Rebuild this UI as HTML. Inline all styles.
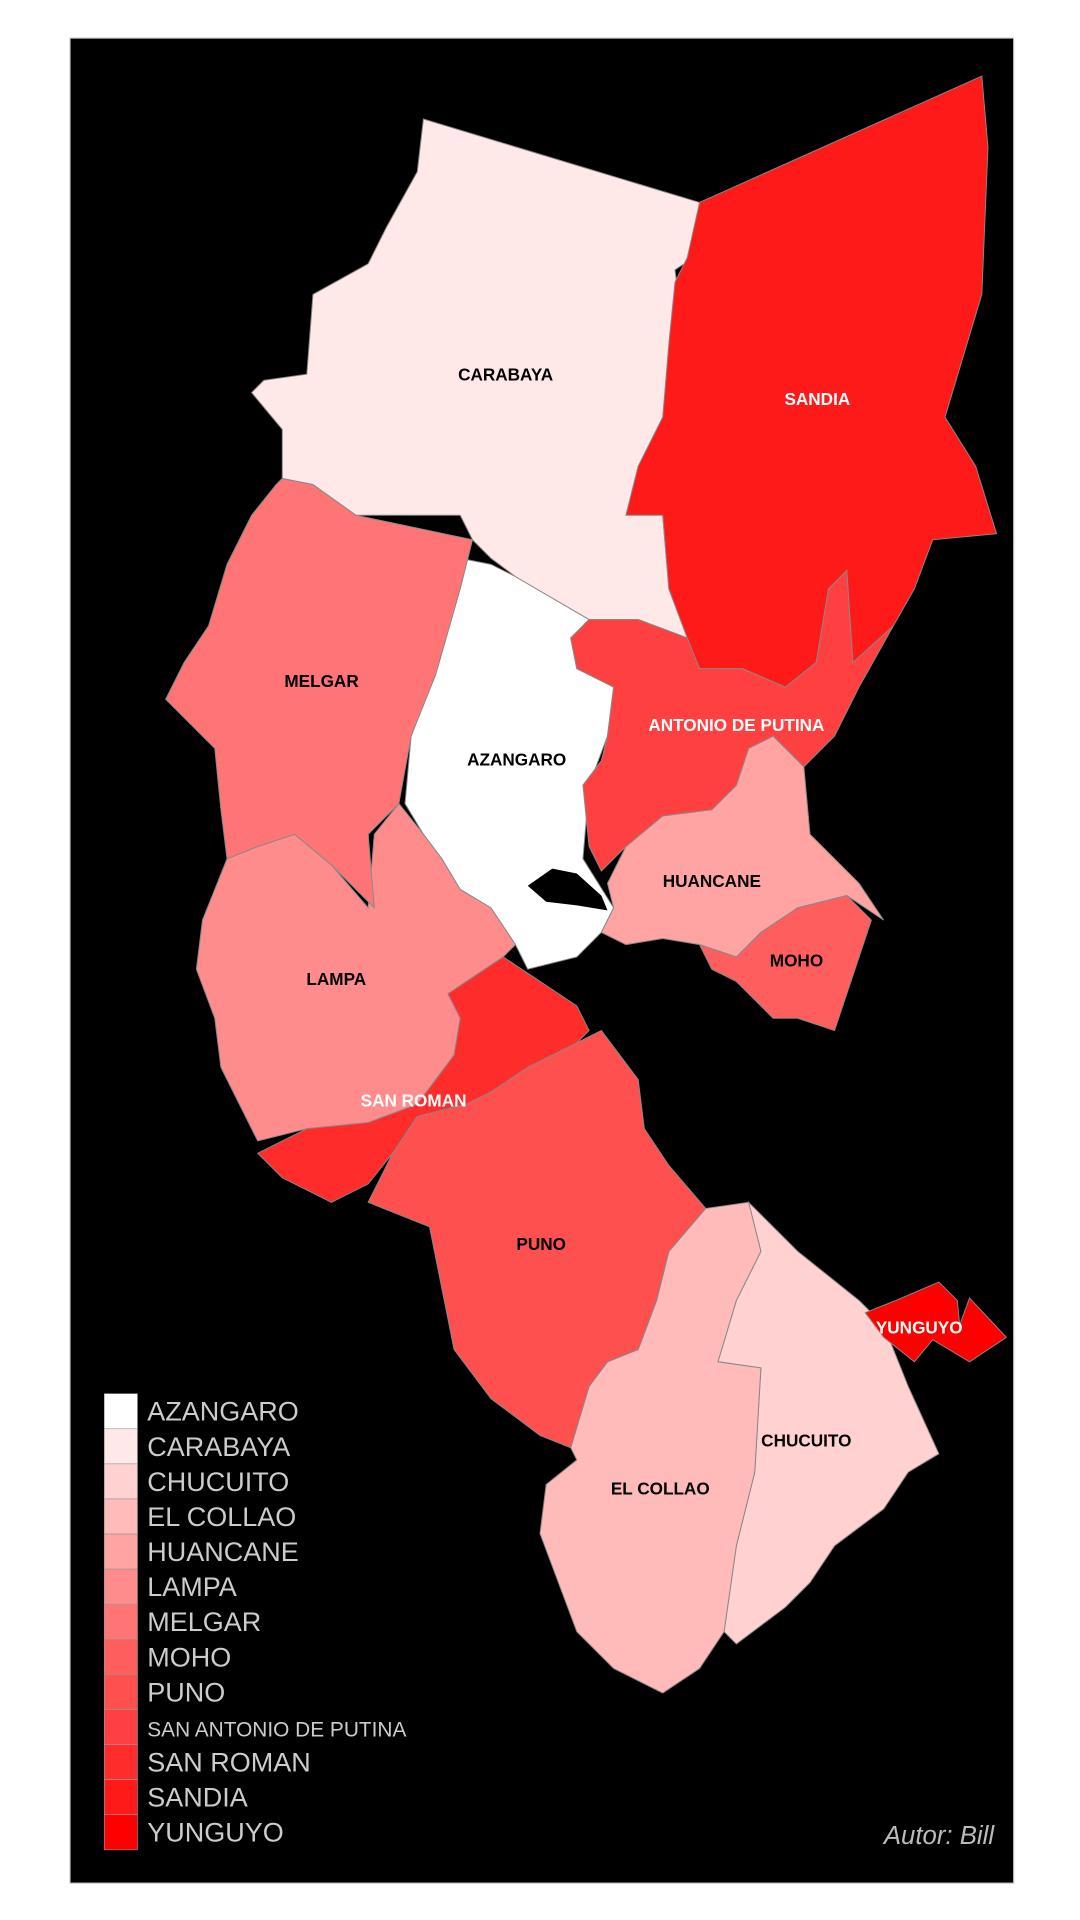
<!DOCTYPE html>
<html><head><meta charset="utf-8"><style>
html,body{margin:0;padding:0;background:#fff;width:1080px;height:1920px;overflow:hidden}
svg{display:block}
text{font-family:"Liberation Sans",sans-serif}
</style></head><body>
<svg id="map" width="1080" height="1920" viewBox="0 0 880 1565" preserveAspectRatio="none">
<rect x="57" y="31" width="769" height="1504" fill="#000" stroke="#ccc" stroke-width="1"/>
<g id="regions"></g>
<g id="labels"></g>
<g id="legend"></g>
<text x="810" y="1503" text-anchor="end" font-size="21" font-style="italic" fill="#bbb">Autor: Bill</text>
</svg>
<script>
const names=["AZANGARO","CARABAYA","CHUCUITO","EL COLLAO","HUANCANE","LAMPA","MELGAR","MOHO","PUNO","SAN ANTONIO DE PUTINA","SAN ROMAN","SANDIA","YUNGUYO"];
const shade=[255,232,209,186,163,140,117,94,80,64,44,26,0];
const shapes={
"CARABAYA":[[345,97],[570,165],[565,210],[550,220],[555,260],[545,340],[555,380],[540,420],[545,480],[560,520],[520,505],[480,505],[420,470],[400,455],[385,440],[375,420],[290,420],[255,395],[230,390],[230,350],[205,320],[215,310],[250,305],[255,240],[300,215],[315,185],[340,140]],
"SANDIA":[[570,165],[800,62],[805,120],[800,240],[785,290],[770,340],[795,380],[812,435],[760,440],[745,480],[728,510],[695,540],[690,465],[675,480],[665,540],[640,560],[605,545],[570,545],[560,520],[545,480],[540,420],[510,420],[520,380],[540,340],[545,280],[550,230],[560,210]],
"AZANGARO":[[375,455],[400,460],[420,470],[480,505],[465,520],[470,545],[500,560],[495,600],[480,640],[475,700],[500,740],[490,760],[470,780],[430,790],[420,770],[400,740],[375,725],[360,700],[345,680],[330,655],[335,600],[350,560],[345,545],[360,520],[370,470]],
"MELGAR":[[230,390],[255,395],[290,420],[385,440],[375,480],[355,550],[335,600],[325,655],[300,680],[305,740],[270,705],[240,680],[210,690],[185,700],[180,660],[175,610],[135,570],[150,540],[170,510],[185,460],[205,420],[225,395]],
"LAMPA":[[185,700],[210,690],[240,680],[270,705],[300,740],[305,680],[325,655],[345,680],[360,700],[375,725],[400,740],[420,770],[410,780],[380,800],[365,810],[375,830],[370,860],[340,900],[300,915],[250,920],[210,930],[195,900],[180,870],[175,830],[160,790],[165,750]],
"SAN ANTONIO DE PUTINA":[[480,505],[520,505],[560,520],[570,545],[605,545],[640,560],[665,540],[675,480],[690,465],[695,540],[728,510],[700,560],[680,600],[655,625],[630,600],[610,610],[600,640],[580,660],[540,665],[510,690],[490,710],[480,690],[475,640],[490,620],[495,600],[500,560],[470,545],[465,520]],
"HUANCANE":[[510,690],[540,665],[580,660],[600,640],[610,610],[630,600],[655,625],[660,680],[700,720],[720,750],[690,730],[670,735],[650,740],[620,760],[600,780],[570,770],[540,765],[510,770],[490,760],[500,740],[495,720]],
"MOHO":[[570,770],[600,780],[620,760],[650,740],[670,735],[690,730],[710,750],[700,780],[690,810],[680,840],[650,830],[630,830],[600,800],[580,790]],
"SAN ROMAN":[[365,810],[380,800],[410,780],[440,800],[470,820],[480,840],[470,850],[430,870],[400,890],[380,900],[340,910],[320,940],[300,965],[270,980],[230,960],[210,940],[250,920],[300,915],[340,900],[370,860],[375,830]],
"PUNO":[[470,850],[490,840],[505,860],[520,880],[525,920],[545,950],[575,985],[545,1020],[535,1060],[520,1100],[495,1110],[480,1130],[465,1180],[440,1170],[400,1140],[370,1100],[350,1000],[300,980],[320,940],[340,910],[380,900],[400,890],[430,870]],
"EL COLLAO":[[575,985],[610,980],[620,1020],[600,1060],[585,1110],[620,1115],[615,1200],[600,1260],[590,1330],[570,1360],[540,1380],[500,1360],[470,1330],[455,1290],[440,1250],[445,1210],[470,1190],[465,1180],[480,1130],[495,1110],[520,1100],[535,1060],[545,1020]],
"CHUCUITO":[[610,980],[650,1020],[700,1060],[720,1080],[740,1130],[765,1185],[740,1200],[720,1230],[680,1260],[660,1290],[640,1310],[600,1340],[590,1330],[600,1260],[615,1200],[620,1115],[585,1110],[600,1060],[620,1020]],
"YUNGUYO":[[705,1070],[730,1060],[765,1045],[780,1060],[782,1080],[790,1058],[820,1090],[790,1110],[760,1092],[745,1110],[720,1090]]
};
const labelPos={"CARABAYA":[412,310,0],"SANDIA":[666,330,1],"MELGAR":[262,560,0],"AZANGARO":[421,624,0],"SAN ANTONIO DE PUTINA":[600,596,1],"HUANCANE":[580,723,0],"MOHO":[649,788,0],"LAMPA":[274,803,0],"SAN ROMAN":[337,902,1],"PUNO":[441,1019,0],"CHUCUITO":[657,1179,0],"EL COLLAO":[538,1218,0],"YUNGUYO":[749,1087,1]};
const labelText={"SAN ANTONIO DE PUTINA":"ANTONIO DE PUTINA"};
const NS="http://www.w3.org/2000/svg";
const gR=document.getElementById('regions'),gL=document.getElementById('labels'),gG=document.getElementById('legend');
function col(i){return 'rgb(255,'+shade[i]+','+shade[i]+')';}
names.forEach((n,i)=>{
  const p=document.createElementNS(NS,'polygon');
  p.setAttribute('points',shapes[n].map(q=>q.join(',')).join(' '));
  p.setAttribute('fill',col(i));p.setAttribute('stroke','#888');p.setAttribute('stroke-width','0.8');
  
  
  gR.appendChild(p);
  const lp=labelPos[n];
  const t=document.createElementNS(NS,'text');
  t.setAttribute('x',lp[0]);t.setAttribute('y',lp[1]);t.setAttribute('text-anchor','middle');
  t.setAttribute('font-size','14');t.setAttribute('font-weight','bold');t.setAttribute('fill',lp[2]?'#fff':'#000');
  t.textContent=labelText[n]||n;
  
  
  gL.appendChild(t);
  const r=document.createElementNS(NS,'rect');
  const y=1136+i*28.6;
  r.setAttribute('x',85);r.setAttribute('y',y);r.setAttribute('width',27);r.setAttribute('height',28.6);
  r.setAttribute('fill',col(i));r.setAttribute('stroke','#999');r.setAttribute('stroke-width','0.5');
  
  
  gG.appendChild(r);
  const lt=document.createElementNS(NS,'text');
  lt.setAttribute('x',120);lt.setAttribute('y',y+22);
  lt.setAttribute('font-size',n.length>15?'17':'22');lt.setAttribute('fill','#ccc');
  lt.textContent=n;
  
  
  gG.appendChild(lt);
});
const hole=document.createElementNS(NS,'polygon');
hole.setAttribute('points','430,722 450,708 470,712 490,730 495,742 470,738 445,735');
hole.setAttribute('fill','#000');


gR.appendChild(hole);
</script>
</body></html>
